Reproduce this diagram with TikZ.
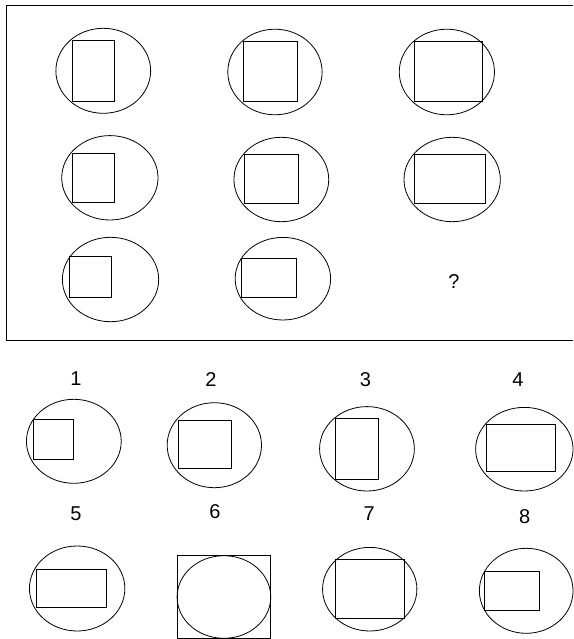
\documentclass[tikz,border=0pt]{standalone}
\usepackage{fontspec}
\setmainfont{Liberation Sans}
\tikzset{
  fig/.style={line width=0.8pt},
  num/.style={inner sep=0pt,font=\fontsize{20}{24}\selectfont}
}

\begin{document}
\begin{tikzpicture}[x=1.102pt,y=-1pt]
\useasboundingbox (0,0) rectangle (520,639);
% frame of the matrix
\draw[fig] (520,5) -- (6.1,5) -- (6.1,340.5) -- (520,340.5);

% row 1
\draw[fig] (93.7,70.8) ellipse [x radius=43,y radius=42.5];
\draw[fig] (65.3,40.3) rectangle (103.7,101);
\draw[fig] (249.5,72) ellipse [x radius=42.8,y radius=42.8];
\draw[fig] (221,41.7) rectangle (270.3,101.7);
\draw[fig] (405.5,72) ellipse [x radius=43.2,y radius=42.8];
\draw[fig] (375.7,41.7) rectangle (438,101.7);

% row 2
\draw[fig] (99.7,177.8) ellipse [x radius=43.7,y radius=42.2];
\draw[fig] (66,153.3) rectangle (103.7,202);
\draw[fig] (255.3,179.5) ellipse [x radius=43,y radius=42.2];
\draw[fig] (221.7,154.3) rectangle (271,203.3);
\draw[fig] (410.3,179.5) ellipse [x radius=43.7,y radius=42.2];
\draw[fig] (375.7,154.3) rectangle (440.3,203.3);

% row 3
\draw[fig] (100.3,279.5) ellipse [x radius=43.7,y radius=42.2];
\draw[fig] (62.7,256.7) rectangle (100.7,297.7);
\draw[fig] (256.7,278.7) ellipse [x radius=43.3,y radius=41.3];
\draw[fig] (219,258.3) rectangle (269,297.7);
\node[num] (ask) at (412,281.7) {?};

% answers 1-4
\node[num] (n1) at (69,378.5) {1};
\node[num] (n2) at (191.5,379.3) {2};
\node[num] (n3) at (331.7,379.3) {3};
\node[num] (n4) at (470,380) {4};
\draw[fig] (67,441.3) ellipse [x radius=43,y radius=42];
\draw[fig] (30,419) rectangle (66.7,459.3);
\draw[fig] (194.5,445.2) ellipse [x radius=42.8,y radius=42.5];
\draw[fig] (161.7,420.7) rectangle (210,468.3);
\draw[fig] (333,448.8) ellipse [x radius=43,y radius=42.2];
\draw[fig] (304.3,418.3) rectangle (343.3,479);
\draw[fig] (475.8,449.2) ellipse [x radius=44.2,y radius=41.8];
\draw[fig] (441,424.3) rectangle (504,471.7);

% answers 5-8
\node[num] (n5) at (69,513.3) {5};
\node[num] (n6) at (195,511.7) {6};
\node[num] (n7) at (335,513.3) {7};
\node[num] (n8) at (476,516.7) {8};
\draw[fig] (70,588.5) ellipse [x radius=43.3,y radius=42.5];
\draw[fig] (33.3,569) rectangle (96.7,607.3);
\draw[fig] (160.7,555.7) rectangle (245.7,638.3);
\draw[fig] (203.2,597) ellipse [x radius=42.5,y radius=41.3];
\draw[fig] (335.5,589.2) ellipse [x radius=42.8,y radius=41.8];
\draw[fig] (304.3,559.3) rectangle (367.3,618.3);
\draw[fig] (477.5,590.8) ellipse [x radius=42.5,y radius=42.5];
\draw[fig] (440,571) rectangle (489.3,610);
\end{tikzpicture}
\end{document}
